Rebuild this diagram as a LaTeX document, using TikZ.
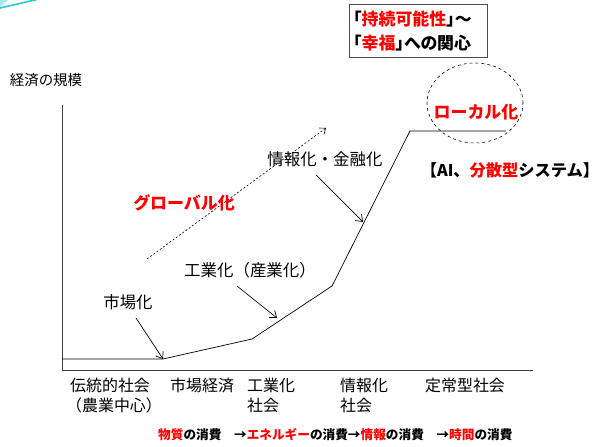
\documentclass[tikz,border=0pt]{standalone}
\usepackage{fontspec}
\setmainfont{Noto Sans CJK JP}
\usetikzlibrary{arrows.meta,shapes.geometric}
\definecolor{jred}{RGB}{255,0,0}
\definecolor{jcyan}{RGB}{40,200,210}
\newcommand{\fs}[1]{\fontsize{#1}{#1}\selectfont}
\newcommand{\palt}{\addfontfeatures{RawFeature=+palt}}
\tikzset{
  lbl/.style={inner sep=0pt, font=\fs{16}},
  big/.style={inner sep=0pt, font=\fs{16.5}},
  axis/.style={line width=0.8pt, draw=black!75},
  curve/.style={line width=0.7pt},
  pointer/.style={line width=0.7pt, -{Straight Barb[length=6pt,width=9pt]}},
}
\begin{document}
\begin{tikzpicture}[x=1bp,y=-1bp]
\useasboundingbox (0,0) rectangle (607,447);
\fill[white] (0,0) rectangle (607,447);
% decorative corner
\fill[jcyan!40] (0,0) -- (8,0) -- (0,7) -- cycle;
\draw[jcyan, line width=1.6pt] (0,8) -- (37,-0.5);
% axes
\coordinate (ytop) at (62,105);
\coordinate (orig) at (62,370);
\coordinate (xend) at (533,370);
\draw[axis] (ytop) -- (orig) -- (xend);
% curve
\coordinate (c0) at (62,359);
\coordinate (c1) at (163,359);
\coordinate (c2) at (252,339);
\coordinate (c3) at (332,286);
\coordinate (c4) at (410,131);
\coordinate (c5) at (506,131);
\draw[curve] (c0) -- (c1) -- (c2) -- (c3) -- (c4) -- (c5);
\coordinate (ind) at (277,318);
\coordinate (inf) at (363,222);
% y axis title
\node[lbl, font=\fs{14.5}] (ytitle) at (46,80) {経済の規模};
% top box
\draw[black!70, line width=0.8pt, fill=white] (349,4) rectangle (487,57);
\node[inner sep=0pt, anchor=west, font=\fs{17}\bfseries\palt] (box1) at (353,19) {「\textcolor{jred}{持続可能性}」\char"301C};
\node[inner sep=0pt, anchor=west, font=\fs{17}\bfseries\palt] (box2) at (353,43) {「\textcolor{jred}{幸福}」への関心};
% dashed ellipse and local
\node[ellipse, draw, dashed, line width=0.6pt, minimum width=96bp, minimum height=80bp] (ell) at (475,103) {};
\node[big, text=jred, font=\fs{17}\bfseries] (local) at (476,112) {ローカル化};
\node[lbl, font=\fs{16.3}\bfseries] (ai) at (510,170) {【AI、\textcolor{jred}{分散型}システム】};
% labels with arrows
\node[big] (info) at (325,159) {情報化・金融化};
\node[big, text=jred, font=\fs{17}\bfseries] (glob) at (184,203) {グローバル化};
\node[big] (indl) at (250,270) {工業化（産業化）};
\node[big] (mkt) at (128,302) {市場化};
\coordinate (gs) at (147,259);
\coordinate (ge) at (326,128);
\draw[dashed, dash pattern=on 2pt off 2pt, line width=0.6pt, -{Straight Barb[length=5pt,width=8pt]}] (gs) -- (ge);
\coordinate (ia) at (316,175);
\coordinate (ib) at (237,286);
\coordinate (ic) at (136,318);
\draw[pointer] (ia) -- (inf);
\draw[pointer] (ib) -- (ind);
\draw[pointer] (ic) -- (c1);
% bottom labels
\node[lbl, anchor=west] (t1) at (70,385) {伝統的社会};
\node[lbl, anchor=west] (t1b) at (66,405) {（農業中心）};
\node[lbl, anchor=west] (t2) at (170,385) {市場経済};
\node[lbl, anchor=west] (t3) at (247,385) {工業化};
\node[lbl, anchor=west] (t3b) at (247,405) {社会};
\node[lbl, anchor=west] (t4) at (340,385) {情報化};
\node[lbl, anchor=west] (t4b) at (340,405) {社会};
\node[lbl, anchor=west] (t5) at (425,385) {定常型社会};
% bottom line
\node[inner sep=0pt, anchor=west, font=\fs{12.7}\bfseries] (flow) at (158,435)
  {\textcolor{jred}{物質}の消費\hspace{1em}→\textcolor{jred}{エネルギー}の消費→\textcolor{jred}{情報}の消費\hspace{1em}→\textcolor{jred}{時間}の消費};
\end{tikzpicture}
\end{document}
